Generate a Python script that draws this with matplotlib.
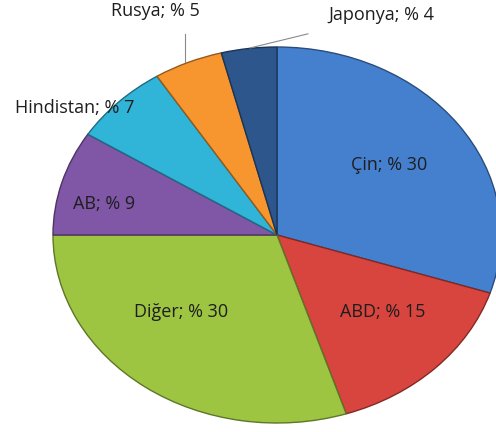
import numpy as np
import matplotlib.pyplot as plt
import matplotlib.colors as mcolors

# Ülkelere göre pay (%)
labels = ['Çin', 'ABD', 'Diğer', 'AB', 'Hindistan', 'Rusya', 'Japonya']
values = [30, 15, 30, 9, 7, 5, 4]
colors = ['#4580CF', '#D8453E', '#9DC541', '#7F57A6', '#30B4D8', '#F7962F', '#2C568C']

# etiket konumları (veri koordinatları)
label_pos = [(0.50, 0.37), (0.47, -0.41), (-0.43, -0.41), (-0.77, 0.165),
             (-0.905, 0.675), (-0.545, 1.19), (0.465, 1.17)]

plt.rcParams['font.family'] = ['Open Sans', 'DejaVu Sans']

fig = plt.figure(figsize=(4.96, 4.32), dpi=100)
ax = fig.add_axes([0, 0, 1, 1])

edge = [mcolors.to_hex(np.array(mcolors.to_rgb(c)) * 0.6) for c in colors]
wedges, _ = ax.pie(values, colors=colors, startangle=90, counterclock=False,
                   wedgeprops=dict(linewidth=1.0))
for w, e in zip(wedges, edge):
    w.set_edgecolor(e)

# elips görünümü için eşit olmayan ölçek
ax.set_aspect('auto')
ax.set_xlim(-277 / 224, (496 - 277) / 224)
ax.set_ylim(-197 / 188, (432 - 197) / 188)
ax.axis('off')

for lab, val, (x, y) in zip(labels, values, label_pos):
    ax.text(x, y, f'{lab}; % {val}', ha='center', va='center',
            fontsize=13, color='#1e1e1e')

# dış etiketler için kılavuz çizgiler
ax.plot([-0.41, -0.41], [1.07, 0.92], color='#8a8a8a', lw=0.8)
ax.plot([0.138, -0.12], [1.07, 0.995], color='#8a8a8a', lw=0.8)

fig.savefig('out.png', dpi=100)
